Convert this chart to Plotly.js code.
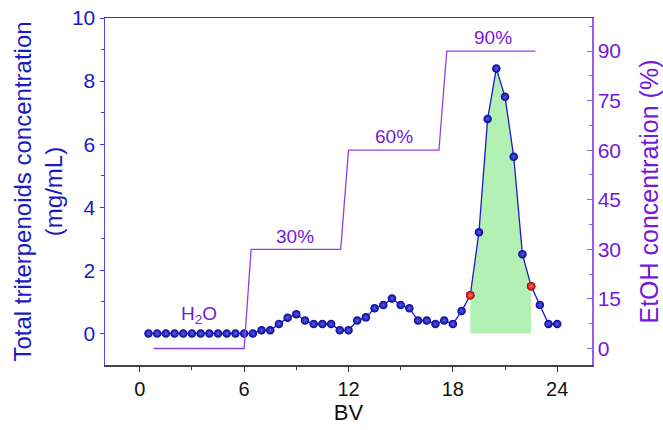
<!DOCTYPE html>
<html>
<head>
<meta charset="utf-8">
<script src="https://cdn.plot.ly/plotly-3.0.1.min.js"></script>
<style>html,body{margin:0;padding:0;background:#fff;}#chart{width:663px;height:430px;}</style>
</head>
<body>
<div id="chart"></div>
<script>
// Total triterpenoids concentration (mg/mL) vs BV
const bv = [0.5,1.0,1.5,2.0,2.5,3.0,3.5,4.0,4.5,5.0,5.5,6.0,6.5,7.0,7.5,8.0,8.5,9.0,9.5,10.0,10.5,11.0,11.5,12.0,12.5,13.0,13.5,14.0,14.5,15.0,15.5,16.0,16.5,17.0,17.5,18.0,18.5,19.0,19.5,20.0,20.5,21.0,21.5,22.0,22.5,23.0,23.5,24.0];
const conc = [0,0,0,0,0,0,0,0,0,0,0,0,0,0.10,0.10,0.30,0.50,0.61,0.41,0.30,0.30,0.30,0.10,0.10,0.41,0.51,0.80,0.90,1.11,0.90,0.80,0.41,0.41,0.30,0.41,0.30,0.71,1.21,3.21,6.80,8.40,7.50,5.60,2.51,1.50,0.90,0.30,0.30];
// collected fraction (highlighted)
const fracStart = 19.0;
const fracEnd = 22.5;
// EtOH gradient step profile (%)
const etohBV = [0.8,6.0,6.4,11.55,12.0,17.2,17.65,22.75];
const etohPct = [0,0,30,30,60,60,90,90];
// step labels
const stepLabels = ['H<sub>2</sub>O','30%','60%','90%'];
const stepLabelBV = [3.4,8.9,14.6,20.3];
const stepLabelPct = [10,34,64,94];

const fracX = [], fracY = [];
bv.forEach((x,i)=>{ if (x>=fracStart && x<=fracEnd){ fracX.push(x); fracY.push(conc[i]); } });
const redX = [fracStart, fracEnd];
const redY = redX.map(x => conc[bv.indexOf(x)]);

const blue = '#1a1ac4';
const purple = '#7418dc';

const traces = [
  {x: fracX, y: fracY, type:'scatter', mode:'lines', line:{width:0}, fill:'tozeroy', fillcolor:'#b3f0b3', hoverinfo:'skip', showlegend:false},
  {x: etohBV, y: etohPct, yaxis:'y2', type:'scatter', mode:'lines', line:{color:'#9040e8', width:1.3}, showlegend:false},
  {x: bv, y: conc, type:'scatter', mode:'lines+markers', line:{color:'#1a1ad0', width:1.3},
   marker:{size:8.5, color:'#06068c', gradient:{type:'radial', color:'#5a5aff'}}, showlegend:false},
  {x: redX, y: redY, type:'scatter', mode:'markers',
   marker:{size:8.5, color:'#c80000', gradient:{type:'radial', color:'#ff7070'}}, showlegend:false}
];

const annotations = stepLabels.map((t,i)=>({
  x: stepLabelBV[i], y: stepLabelPct[i], xref:'x', yref:'y2', text:t, showarrow:false,
  font:{family:'Arial, Liberation Sans, sans-serif', size:19, color:purple}
}));

const layout = {
  width:663, height:430,
  margin:{l:105, r:71, t:18, b:65, pad:0},
  paper_bgcolor:'#fff', plot_bgcolor:'#fff',
  font:{family:'Arial, Liberation Sans, sans-serif'},
  xaxis:{range:[-2,26], tickvals:[0,6,12,18,24], ticks:'outside', ticklen:5, tickwidth:1, tickcolor:'#333',
    showline:true, linecolor:'#444', linewidth:1.5, mirror:true, showgrid:false, zeroline:false,
    minor:{tickvals:[3,9,15,21], ticks:'outside', ticklen:3, tickcolor:'#333'},
    tickfont:{size:20, color:'#111'},
    title:{text:'BV', font:{size:22, color:'#111'}, standoff:6}},
  yaxis:{range:[-1,10], tickvals:[0,2,4,6,8,10], ticks:'outside', ticklen:4, tickcolor:'#3535e8',
    showline:true, linecolor:'#4a4af0', linewidth:1.5, showgrid:false, zeroline:false,
    minor:{tickvals:[1,3,5,7,9], ticks:'outside', ticklen:3, tickcolor:'#3535e8'},
    tickfont:{size:21, color:blue},
    title:{text:'Total triterpenoids concentration<br>(mg/mL)', font:{size:24, color:blue}, standoff:2}},
  yaxis2:{range:[-5,100], overlaying:'y', side:'right', tickvals:[0,15,30,45,60,75,90], ticks:'inside', ticklen:5, tickcolor:'#9a5cf0',
    showline:true, linecolor:'#9a5cf0', linewidth:1.5, showgrid:false, zeroline:false,
    minor:{tickvals:[7.5,22.5,37.5,52.5,67.5,82.5,97.5], ticks:'inside', ticklen:3, tickcolor:'#9a5cf0'},
    tickfont:{size:21, color:purple},
    title:{text:'EtOH concentration (%)', font:{size:25, color:purple}, standoff:22}},
  annotations: annotations
};

Plotly.newPlot('chart', traces, layout, {displayModeBar:false, staticPlot:true});
</script>
</body>
</html>
